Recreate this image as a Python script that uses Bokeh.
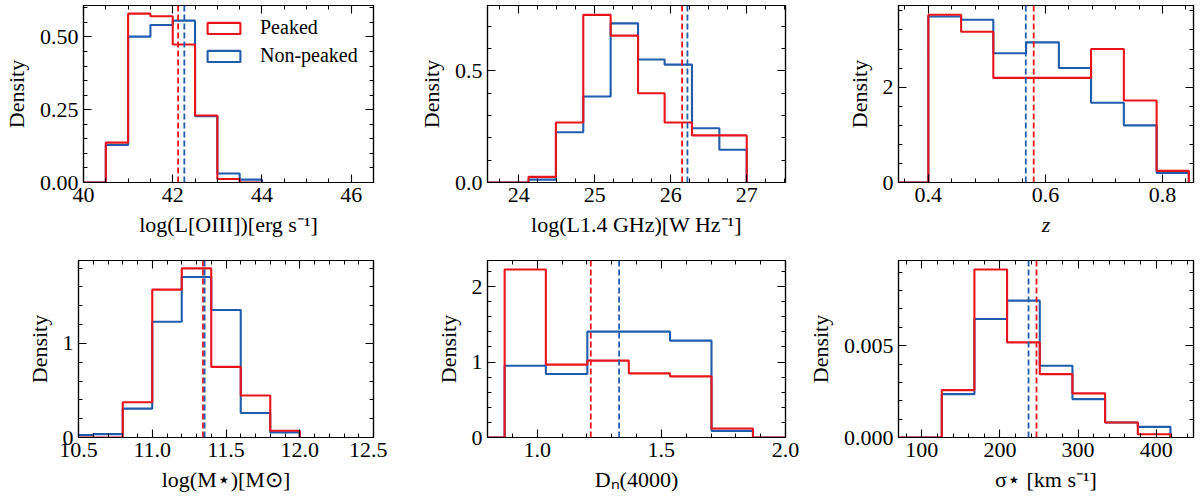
import numpy as np
from bokeh.plotting import figure
from bokeh.layouts import column, row
from bokeh.models import (Range1d, FixedTicker, PrintfTickFormatter, LinearAxis,
                          Span, Legend, LegendItem, CustomLabelingPolicy)
from bokeh.embed import file_html
from bokeh.resources import INLINE

RED = "#e8141c"
BLUE = "#1f5cae"
FONT = "Liberation Serif"

# --- histogram data (density per bin) ---
oiii_edges = [40.0, 40.5, 41.0, 41.5, 42.0, 42.5, 43.0, 43.5, 44.0]
oiii_peaked = [0.0, 0.137, 0.580, 0.571, 0.474, 0.230, 0.012, 0.0]
oiii_nonpeaked = [0.0, 0.129, 0.501, 0.541, 0.556, 0.228, 0.031, 0.010]
oiii_medians = (42.12, 42.26)

radio_edges = [23.41, 23.77, 24.13, 24.49, 24.85, 25.21, 25.57, 25.92, 26.28, 26.64, 27.0]
radio_peaked = [0.0, 0.0, 0.025, 0.269, 0.751, 0.658, 0.400, 0.269, 0.211, 0.211]
radio_nonpeaked = [0.0, 0.0, 0.013, 0.225, 0.385, 0.713, 0.551, 0.528, 0.243, 0.147]
radio_medians = (26.15, 26.22)

z_edges = [0.344, 0.400, 0.456, 0.511, 0.567, 0.623, 0.678, 0.734, 0.790, 0.845]
z_peaked = [0.0, 3.519, 3.164, 2.195, 2.195, 2.195, 2.801, 1.721, 0.244]
z_nonpeaked = [0.0, 3.484, 3.415, 2.711, 2.941, 2.404, 1.672, 1.199, 0.202]
z_medians = (0.580, 0.5665)

mass_edges = [10.4, 10.6, 10.8, 11.0, 11.2, 11.4, 11.6, 11.8, 12.0]
mass_peaked = [0.0, 0.0, 0.375, 1.571, 1.796, 0.750, 0.446, 0.071]
mass_nonpeaked = [0.025, 0.036, 0.307, 1.229, 1.704, 1.354, 0.261, 0.054]
mass_medians = (11.344, 11.355)

dn_edges = [0.702, 0.869, 1.035, 1.202, 1.369, 1.535, 1.702, 1.869, 2.035]
dn_peaked = [0.0, 2.226, 0.965, 1.018, 0.850, 0.810, 0.119, 0.0]
dn_nonpeaked = [0.0, 0.951, 0.841, 1.403, 1.403, 1.283, 0.088, 0.0]
dn_medians = (1.216, 1.330)

sig_edges = [41.9, 83.7, 125.5, 167.3, 209.1, 251.0, 292.8, 334.6, 376.5, 418.3]
sig_peaked = [0.0, 0.0, 0.00258, 0.00915, 0.00518, 0.00345, 0.00240, 0.00082, 0.00018]
sig_nonpeaked = [0.0, 0.0, 0.00236, 0.00645, 0.00745, 0.00391, 0.00209, 0.00082, 0.00058]
sig_medians = (246.8, 236.6)

# axis ticks
oiii_xticks, oiii_yticks = [40, 42, 44, 46], [0, 0.25, 0.5]
radio_xticks, radio_yticks = [24, 25, 26, 27], [0, 0.5]
z_xticks, z_yticks = [0.4, 0.6, 0.8], [0, 2]
mass_xticks, mass_yticks = [10.5, 11.0, 11.5, 12.0, 12.5], [0, 1]
dn_xticks, dn_yticks = [1.0, 1.5, 2.0], [0, 1, 2]
sig_xticks, sig_yticks = [100, 200, 300, 400], [0, 0.005]

panels = [
    dict(edges=oiii_edges, pk=oiii_peaked, npk=oiii_nonpeaked, med=oiii_medians,
         xr=(40.0, 46.5), yr=(0, 0.608), xt=oiii_xticks, yt=oiii_yticks,
         xminor=0.5, yminor=0.05, xf="%d", yf="%.2f",
         xlabel="log(L[OIII])[erg s\u207b\u00b9]", italic=False),
    dict(edges=radio_edges, pk=radio_peaked, npk=radio_nonpeaked, med=radio_medians,
         xr=(23.59, 27.51), yr=(0, 0.793), xt=radio_xticks, yt=radio_yticks,
         xminor=0.25, yminor=0.1, xf="%d", yf="%.1f",
         xlabel="log(L1.4 GHz)[W Hz\u207b\u00b9]", italic=False),
    dict(edges=z_edges, pk=z_peaked, npk=z_nonpeaked, med=z_medians,
         xr=(0.349, 0.853), yr=(0, 3.714), xt=z_xticks, yt=z_yticks,
         xminor=0.04, yminor=0.4, xf="%.1f", yf="%d",
         xlabel="z", italic=True),
    dict(edges=mass_edges, pk=mass_peaked, npk=mass_nonpeaked, med=mass_medians,
         xr=(10.5, 12.5), yr=(0, 1.88), xt=mass_xticks, yt=mass_yticks,
         xminor=0.1, yminor=0.2, xf="%.1f", yf="%d",
         xlabel="log(M\u22c6)[M\u2299]", italic=False),
    dict(edges=dn_edges, pk=dn_peaked, npk=dn_nonpeaked, med=dn_medians,
         xr=(0.8, 2.0), yr=(0, 2.345), xt=dn_xticks, yt=dn_yticks,
         xminor=0.1, yminor=0.2, xf="%.1f", yf="%d",
         xlabel="D\u2099(4000)", italic=False),
    dict(edges=sig_edges, pk=sig_peaked, npk=sig_nonpeaked, med=sig_medians,
         xr=(70.1, 447.8), yr=(0, 0.009636), xt=sig_xticks, yt=sig_yticks,
         xminor=20, yminor=0.001, xf="%d", yf="%.3f",
         xlabel="\u03c3\u22c6 [km s\u207b\u00b9]", italic=False),
]

# (left border, frame width, right border) per column; (top, frame height, bottom) per row
col_geom = [(78, 295, 14), (100, 298, 14), (99, 295, 7)]
row_geom = [(5, 177, 73), (5, 177, 63)]


def step_xy(edges, vals):
    xs = np.repeat(np.asarray(edges, dtype=float), 2)
    ys = np.concatenate([[0.0], np.repeat(np.asarray(vals, dtype=float), 2), [0.0]])
    return xs, ys


def make_ticker(major, step, lo, hi):
    minor = np.arange(np.floor(lo / step) * step, hi + step, step)
    return FixedTicker(ticks=major, minor_ticks=[float(round(m, 6)) for m in minor])


def style_axis(ax, fmt=None, labels=True):
    ax.axis_line_color = "black"
    ax.axis_line_width = 1.2
    ax.major_tick_in = 8
    ax.major_tick_out = 0
    ax.minor_tick_in = 4
    ax.minor_tick_out = 0
    ax.major_tick_line_color = "black"
    ax.minor_tick_line_color = "black"
    ax.major_tick_line_width = 1.1
    ax.minor_tick_line_width = 1.0
    if labels:
        ax.formatter = PrintfTickFormatter(format=fmt)
        ax.major_label_text_font = FONT
        ax.major_label_text_font_size = "22px"
        ax.major_label_text_color = "black"
        ax.axis_label_text_font = FONT
        ax.axis_label_text_font_size = "22px"
        ax.axis_label_text_font_style = "normal"
        ax.axis_label_text_color = "black"
    else:
        # mirrored tick marks only: no labels drawn
        ax.major_label_text_font_size = "1px"
        ax.major_label_standoff = 0
        ax.major_label_policy = CustomLabelingPolicy(
            code="for (const i of indices) { indices.unset(i) } return indices")


figs = []
for i, d in enumerate(panels):
    r, c = divmod(i, 3)
    bl, fw, br = col_geom[c]
    bt, fh, bb = row_geom[r]
    p = figure(width=bl + fw + br, height=bt + fh + bb,
               x_range=Range1d(*d["xr"]), y_range=Range1d(*d["yr"]),
               output_backend="svg", toolbar_location=None,
               min_border_left=bl, min_border_right=br,
               min_border_top=bt, min_border_bottom=bb)
    p.grid.visible = False
    p.outline_line_color = "black"
    p.outline_line_width = 1.2
    p.background_fill_color = "white"
    p.border_fill_color = "white"

    p.xaxis.ticker = make_ticker(d["xt"], d["xminor"], *d["xr"])
    p.yaxis.ticker = make_ticker(d["yt"], d["yminor"], *d["yr"])
    p.xaxis.axis_label = d["xlabel"]
    p.yaxis.axis_label = "Density"
    style_axis(p.xaxis[0], d["xf"])
    style_axis(p.yaxis[0], d["yf"])
    p.xaxis.major_label_standoff = 5
    p.yaxis.major_label_standoff = 5
    p.xaxis.axis_label_standoff = 7
    p.yaxis.axis_label_standoff = 8
    if d["italic"]:
        p.xaxis.axis_label_text_font_style = "italic"

    top = LinearAxis(ticker=make_ticker(d["xt"], d["xminor"], *d["xr"]))
    style_axis(top, labels=False)
    p.add_layout(top, "above")
    right = LinearAxis(ticker=make_ticker(d["yt"], d["yminor"], *d["yr"]))
    style_axis(right, labels=False)
    p.add_layout(right, "right")

    xs, ys = step_xy(d["edges"], d["npk"])
    p.line(xs, ys, line_color=BLUE, line_width=2.1)
    xs, ys = step_xy(d["edges"], d["pk"])
    p.line(xs, ys, line_color=RED, line_width=2.1)

    p.add_layout(Span(location=d["med"][0], dimension="height", line_color=RED,
                      line_width=1.8, line_dash="6 3"))
    p.add_layout(Span(location=d["med"][1], dimension="height", line_color=BLUE,
                      line_width=1.8, line_dash="6 3"))

    if i == 0:
        # box-shaped legend keys: the bin boxes, kept hidden in the plot itself
        pk_box = p.quad(left=d["edges"][:-1], right=d["edges"][1:], top=d["pk"],
                        bottom=0, fill_color=None, line_color=RED, line_width=2.1,
                        visible=False)
        npk_box = p.quad(left=d["edges"][:-1], right=d["edges"][1:], top=d["npk"],
                         bottom=0, fill_color=None, line_color=BLUE, line_width=2.1,
                         visible=False)
        legend = Legend(items=[LegendItem(label="Peaked", renderers=[pk_box]),
                               LegendItem(label="Non-peaked", renderers=[npk_box])],
                        location=(120, 177 - 13 - 49))
        legend.border_line_color = None
        legend.background_fill_alpha = 0
        legend.inactive_fill_alpha = 0
        legend.padding = 0
        legend.margin = 0
        legend.spacing = 5
        legend.glyph_width = 41
        legend.glyph_height = 14
        legend.label_height = 22
        legend.label_standoff = 16
        legend.label_text_font = FONT
        legend.label_text_font_size = "20px"
        legend.label_text_color = "black"
        p.add_layout(legend, "center")
    figs.append(p)

layout = column(row(*figs[:3]), row(*figs[3:]))
open("out.html", "w").write(file_html(layout, INLINE))
